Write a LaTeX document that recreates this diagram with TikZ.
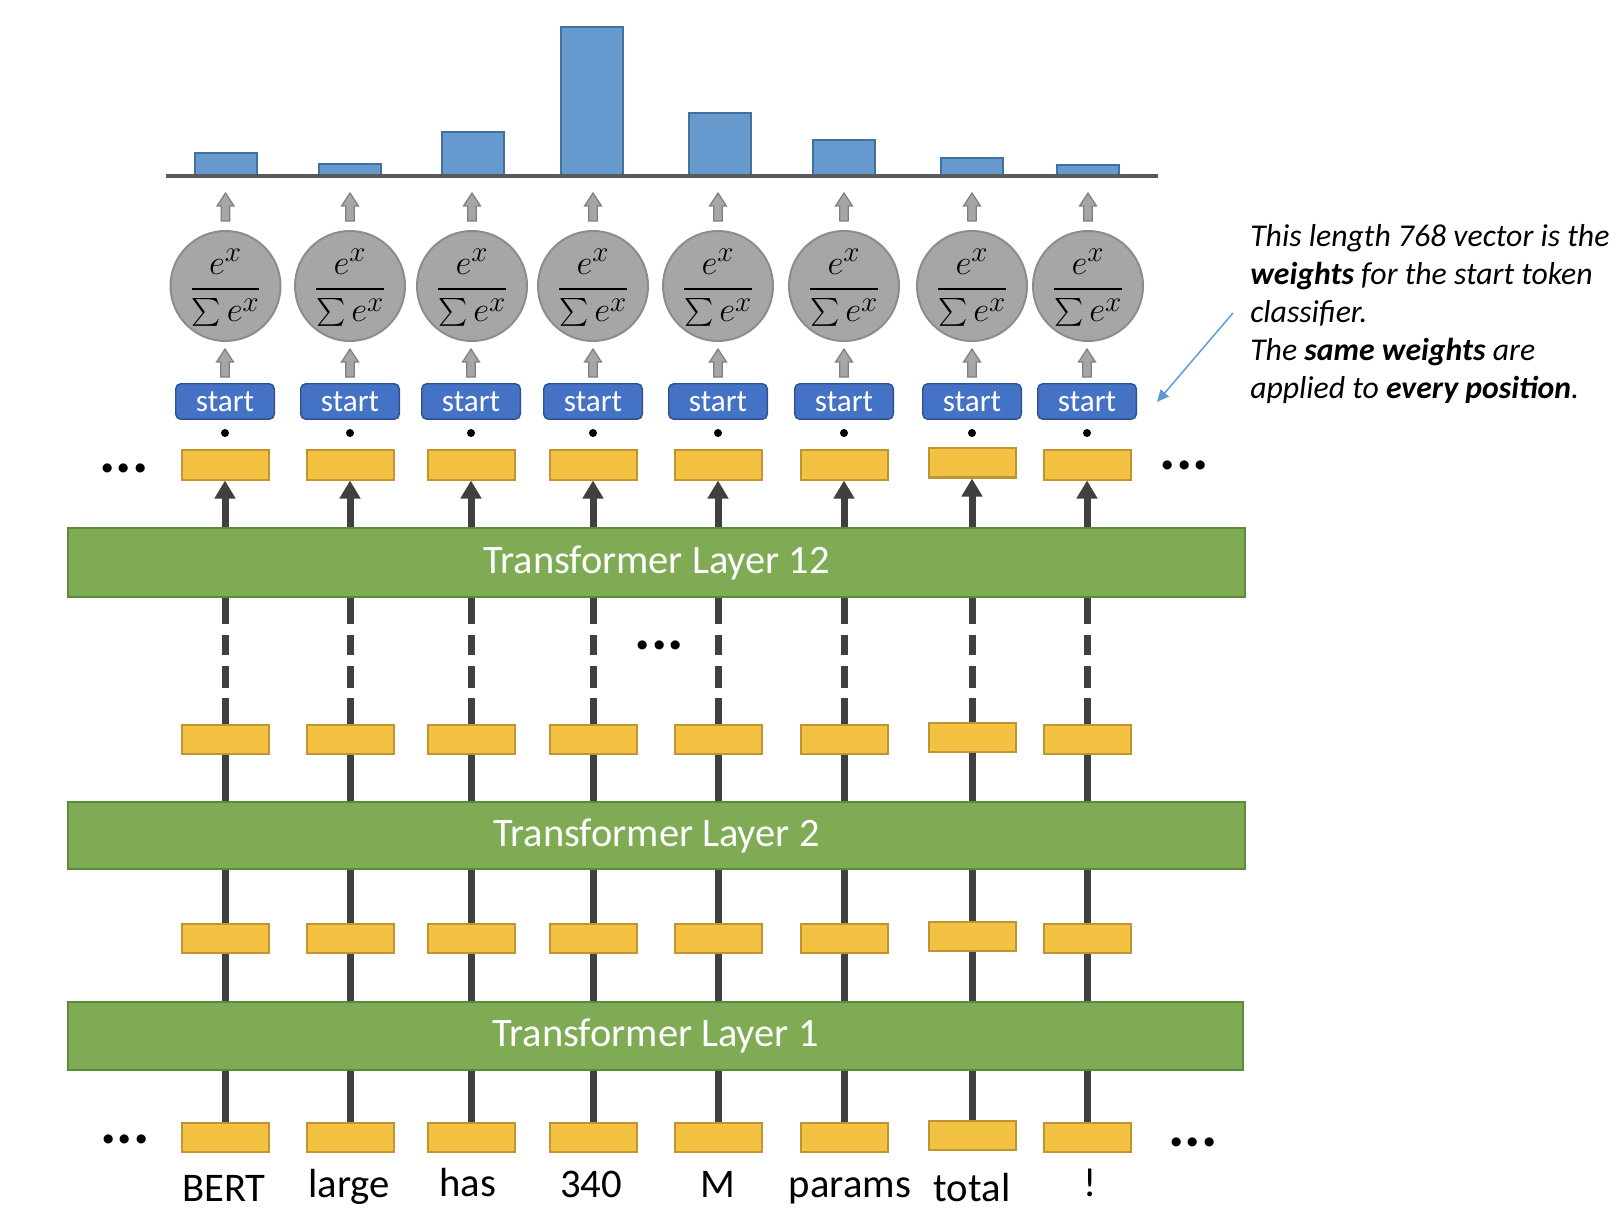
\documentclass[tikz,border=0pt]{standalone}
\usepackage{amsmath}
\usepackage{graphicx}
\usepackage{fontspec}
\setmainfont{Carlito}
\usetikzlibrary{calc,arrows.meta}
\definecolor{ygfill}{HTML}{F4C242}
\definecolor{ygdraw}{HTML}{C09430}
\definecolor{grfill}{HTML}{7FAB55}
\definecolor{grdraw}{HTML}{5A8A3A}
\definecolor{stfill}{HTML}{4472C4}
\definecolor{stdraw}{HTML}{2F528F}
\definecolor{cifill}{HTML}{A6A6A6}
\definecolor{cidraw}{HTML}{8C8C8C}
\definecolor{gfill}{HTML}{A6A6A6}
\definecolor{gdraw}{HTML}{7F7F7F}
\definecolor{barfill}{HTML}{6699CE}
\definecolor{bardraw}{HTML}{41719C}
\definecolor{dk}{HTML}{404040}
\definecolor{basecol}{HTML}{595959}
\definecolor{annot}{HTML}{5B9BD5}
\newcommand\smallsum{\mathop{\vcenter{\hbox{\scalebox{0.8}{$\textstyle\sum$}}}}\nolimits}
\newcommand\softfrac{\scalebox{1.05}{$\genfrac{}{}{2pt}{0}{e^{x}}{\smallsum e^{x}}$}}
\tikzset{
 ybox/.style={draw=ygdraw, fill=ygfill, line width=1.5pt, minimum width=65.25pt, minimum height=21.75pt, inner sep=0pt},
 layer/.style={draw=grdraw, fill=grfill, line width=1.5pt, inner sep=0pt, text=white, font=\fontsize{30.3}{36}\selectfont},
 stbox/.style={draw=stdraw, fill=stfill, line width=1.1pt, rounded corners=3.75pt, minimum width=73.9pt, minimum height=26.6pt, inner sep=0pt, text=white, font=\fontsize{23.4}{28}\selectfont},
 softmax/.style={circle, draw=cidraw, fill=cifill, line width=1.5pt, minimum size=82.5pt, inner sep=0pt, text height=32.25pt, text depth=14.75pt, font=\fontsize{24.88}{30}\selectfont},
 conn/.style={draw=dk, line width=5.25pt},
 uparrow/.style={conn, -{Triangle[width=15pt,length=13.5pt]}},
 dashconn/.style={conn, dash pattern=on 19.5pt off 8.25pt on 15pt off 8.25pt on 16.5pt off 7.5pt on 30pt off 1pt},
 garrow/.style={draw=gdraw, fill=gfill, line width=0.9pt},
 bar/.style={draw=bardraw, fill=barfill, line width=1.5pt},
 word/.style={anchor=base, inner sep=0pt, font=\fontsize{30.5}{36}\selectfont},
 note/.style={anchor=base west, inner sep=0pt, font=\fontsize{23.8}{28}\selectfont\itshape},
 ell/.style={inner sep=0pt, font=\fontsize{46}{50}\selectfont\bfseries},
 dotm/.style={fill=black},
 annarrow/.style={draw=annot, line width=1.1pt, -{Triangle[length=9pt,width=8pt]}},
}
\begin{document}
\begin{tikzpicture}[x=0.75pt,y=-0.75pt]
\useasboundingbox (0,0) rectangle (1621,1219);
% bar chart
\foreach \x/\t in {226/153,350/164,472.5/132,592/27,720/113,843.5/140,972/158,1088/165}
  \draw[bar] (\x-31,176) rectangle (\x+31,\t);
\draw[draw=basecol, line width=3pt] (166,176) -- (1158,176);
% layers
\node[layer, minimum width=882.75pt, minimum height=51.75pt] (L12) at (656.5,562.5) {Transformer Layer 12};
\node[layer, minimum width=882.75pt, minimum height=50.25pt] (L2) at (656.5,835.5) {Transformer Layer 2};
\node[layer, minimum width=881.25pt, minimum height=51pt] (L1) at (655.5,1036) {Transformer Layer 1};
% columns
\foreach \x/\d/\cx [count=\i] in {225/0/225.5,350/0/350,471/0/472,593/0/593,718/0/718,844/0/844,972/-2/972,1087/0/1088} {
  \node[ybox] (ya\i) at (\x,465+\d) {};
  \node[ybox] (yb\i) at (\x,739+\d) {};
  \node[ybox] (yc\i) at (\x,938+\d) {};
  \node[ybox] (yd\i) at (\x,1137.5+\d) {};
  \node[stbox] (s\i) at (\x,401.5) {start};
  \node[softmax] (c\i) at (\cx,286) {\softfrac};
  \fill[dotm] (\x,433) circle (3pt);
  \draw[uparrow] (ya\i.south |- L12.north) -- (ya\i.south);
  \draw[dashconn] (yb\i.north |- L12.south) -- (yb\i.north);
  \draw[conn] (yb\i.south) -- (yb\i.south |- L2.north);
  \draw[conn] (yc\i.north |- L2.south) -- (yc\i.north);
  \draw[conn] (yc\i.south) -- (yc\i.south |- L1.north);
  \draw[conn] (yd\i.north |- L1.south) -- (yd\i.north);
  \draw[garrow] ($(s\i.north)+(0,-6)$) ++(-4.25,0) -- ++(0,-15) -- ++(-4.25,0) -- ++(8.5,-13) -- ++(8.5,13) -- ++(-4.25,0) -- ++(0,15) -- cycle;
  \draw[garrow] ($(c\i.north)+(0,-9)$) ++(-4.25,0) -- ++(0,-15) -- ++(-4.25,0) -- ++(8.5,-13) -- ++(8.5,13) -- ++(-4.25,0) -- ++(0,15) -- cycle;
}
% words
\node[word] (w1) at (224,1201) {BERT};
\node[word] (w2) at (349,1197) {large};
\node[word] (w3) at (468,1196) {has};
\node[word] (w4) at (591,1197) {340};
\node[word] (w5) at (718,1197) {M};
\node[word] (w6) at (850,1197) {params};
\node[word] (w7) at (972,1201) {total};
\node[word] (w8) at (1090,1196) {!};
% ellipses
\node[ell] (e1) at (124,468) {...};
\node[ell] (e2) at (1184.5,465) {...};
\node[ell] (e3) at (659.5,645) {...};
\node[ell] (e4) at (125,1139) {...};
\node[ell] (e5) at (1193,1142) {...};
% annotation
\node[note] (n1) at (1250,247) {This length 768 vector is the};
\node[note] (n2) at (1250,285) {\textbf{weights} for the start token};
\node[note] (n3) at (1250,323) {classifier.};
\node[note] (n4) at (1250,361) {The \textbf{same weights} are};
\node[note] (n5) at (1250,399) {applied to \textbf{every position}.};
\coordinate (aS) at (1233,313);
\coordinate (aE) at (1157,402);
\draw[annarrow] (aS) -- (aE);
\end{tikzpicture}
\end{document}
